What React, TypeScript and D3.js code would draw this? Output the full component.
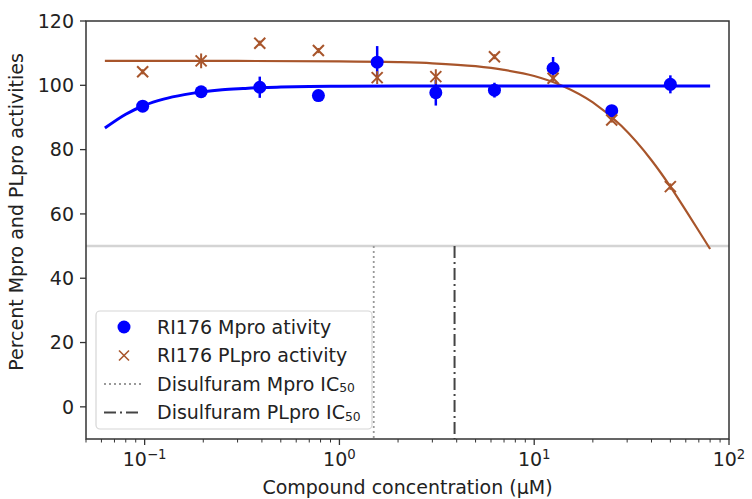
import React from 'react';
import * as d3 from 'd3';

// ---- data ----
const concentrations = [0.0977, 0.195, 0.39, 0.78, 1.5625, 3.125, 6.25, 12.5, 25, 50];
const mproActivity = [93.5, 98.0, 99.4, 96.8, 107.2, 97.7, 98.5, 105.3, 92.1, 100.3];
const mproError = [1.2, 1.5, 3.3, 1.0, 5.0, 4.0, 2.3, 3.5, 1.0, 2.8];
const plproActivity = [104.2, 107.6, 113.1, 110.8, 102.4, 102.7, 108.9, 102.2, 89.2, 68.5];
const plproError = [0.8, 2.3, 0.8, 0.8, 2.0, 2.3, 0.8, 1.0, 0.8, 1.0];

const mproFitX = [0.0625, 0.08, 0.1, 0.125, 0.16, 0.2, 0.25, 0.32, 0.4, 0.5, 0.7, 1, 2, 5, 10, 20, 40, 80];
const mproFitY = [86.7, 91.0, 93.8, 95.7, 97.1, 98.0, 98.6, 99.0, 99.3, 99.45, 99.6, 99.7, 99.77, 99.8, 99.8, 99.8, 99.8, 99.8];
const plproFitX = [0.0625, 0.1, 0.3, 1, 2, 3, 5, 7, 10, 14, 20, 28, 40, 50, 60, 70, 80];
const plproFitY = [107.6, 107.6, 107.58, 107.47, 107.2, 106.85, 105.95, 104.8, 102.9, 99.8, 94.7, 87.4, 76.7, 68.5, 61.1, 54.7, 49.1];

const disulfuramMproIC50 = 1.5;
const disulfuramPlproIC50 = 3.9;
const halfActivity = 50;

const yTicks = [0, 20, 40, 60, 80, 100, 120];
const xTickExponents = ['\u22121', '0', '1', '2'];
const xTickValues = [0.1, 1, 10, 100];

const legendLabels = ['RI176 Mpro ativity', 'RI176 PLpro activity', 'Disulfuram Mpro IC', 'Disulfuram PLpro IC'];
const xLabel = 'Compound concentration (\u03bcM)';
const yLabel = 'Percent Mpro and PLpro activities';

// ---- styles ----
const W = 752, H = 499;
const left = 86, right = 729, top = 21, bottom = 439;
const FONT = 'DejaVu Sans';
const FS = 19;
const BLUE = '#0000ff';
const BROWN = '#a8552b';
const AXIS = '#333';

export default function App() {
  const x = d3.scaleLog().domain([0.05, 100]).range([left, right]);
  const y = d3.scaleLinear().domain([-10, 120]).range([bottom, top]);

  const line = d3.line<[number, number]>()
    .x(d => x(d[0]))
    .y(d => y(d[1]))
    .curve(d3.curveMonotoneX);

  const mproPath = line(mproFitX.map((v, i) => [v, mproFitY[i]]) as [number, number][]) || '';
  const plproPath = line(plproFitX.map((v, i) => [v, plproFitY[i]]) as [number, number][]) || '';

  const minorTicks: number[] = [];
  for (let e = -2; e <= 1; e++) {
    for (let m = 2; m <= 9; m++) {
      const v = m * Math.pow(10, e);
      if (v >= 0.05 && v <= 100) minorTicks.push(v);
    }
  }

  const xs = 5.5; // half-size of X marker
  const legX = 96, legY = 311, legW = 276, legH = 118;
  const rowY = [327, 355.5, 384, 412.5];
  const handleX = 124;
  const textX = 157;

  return (
    <svg width={W} height={H} style={{ position: 'absolute', left: 0, top: 0, background: '#fff' }}
      fontFamily={FONT}>
      <rect x={0} y={0} width={W} height={H} fill="#fff" />
      {/* 50% line */}
      <line x1={left} x2={right} y1={y(halfActivity)} y2={y(halfActivity)} stroke="#d4d4d4" strokeWidth={2.5} />
      {/* IC50 lines */}
      <line x1={x(disulfuramMproIC50)} x2={x(disulfuramMproIC50)} y1={y(halfActivity)} y2={bottom}
        stroke="#999" strokeWidth={1.8} strokeDasharray="2 3" />
      <line x1={x(disulfuramPlproIC50)} x2={x(disulfuramPlproIC50)} y1={y(halfActivity)} y2={bottom}
        stroke="#444" strokeWidth={2} strokeDasharray="12 4 2 4" />

      {/* fitted curves */}
      <path d={plproPath} fill="none" stroke={BROWN} strokeWidth={2.2} />
      <path d={mproPath} fill="none" stroke={BLUE} strokeWidth={3} />

      {/* Mpro points with error bars */}
      {concentrations.map((c, i) => (
        <g key={'m' + i}>
          <line x1={x(c)} x2={x(c)} y1={y(mproActivity[i] - mproError[i])} y2={y(mproActivity[i] + mproError[i])}
            stroke={BLUE} strokeWidth={2.5} />
          <circle cx={x(c)} cy={y(mproActivity[i])} r={6.5} fill={BLUE} />
        </g>
      ))}
      {/* PLpro points with error bars */}
      {concentrations.map((c, i) => {
        const cx = x(c), cy = y(plproActivity[i]);
        return (
          <g key={'p' + i} stroke={BROWN} strokeWidth={2}>
            <line x1={cx} x2={cx} y1={y(plproActivity[i] - plproError[i])} y2={y(plproActivity[i] + plproError[i])} />
            <line x1={cx - xs} x2={cx + xs} y1={cy - xs} y2={cy + xs} />
            <line x1={cx - xs} x2={cx + xs} y1={cy + xs} y2={cy - xs} />
          </g>
        );
      })}

      {/* legend */}
      <rect x={legX} y={legY} width={legW} height={legH} rx={4} fill="#fff" fillOpacity={0.8} stroke="#d6d6d6" strokeWidth={1.2} />
      <circle cx={handleX} cy={rowY[0]} r={6.5} fill={BLUE} />
      <g stroke={BROWN} strokeWidth={1.6}>
        <line x1={handleX - 5} x2={handleX + 5} y1={rowY[1] - 5} y2={rowY[1] + 5} />
        <line x1={handleX - 5} x2={handleX + 5} y1={rowY[1] + 5} y2={rowY[1] - 5} />
      </g>
      <line x1={104} x2={142} y1={rowY[2]} y2={rowY[2]} stroke="#999" strokeWidth={1.8} strokeDasharray="2 3" />
      <line x1={104} x2={142} y1={rowY[3]} y2={rowY[3]} stroke="#444" strokeWidth={2} strokeDasharray="12 4 2 4" />
      {legendLabels.map((t, i) => (
        <text key={'l' + i} x={textX} y={rowY[i]} dy="0.36em" fontSize={FS} fill="#222">
          {t}
          {i >= 2 ? <tspan fontSize={FS * 0.65} dy="0.1em">50</tspan> : null}
        </text>
      ))}

      {/* axes frame */}
      <rect x={left} y={top} width={right - left} height={bottom - top} fill="none" stroke={AXIS} strokeWidth={1.5} />

      {/* y ticks */}
      {yTicks.map(t => (
        <g key={'y' + t}>
          <line x1={left - 6} x2={left} y1={y(t)} y2={y(t)} stroke={AXIS} strokeWidth={1.3} />
          <text x={left - 12} y={y(t)} dy="0.36em" textAnchor="end" fontSize={FS} fill="#222">{t}</text>
        </g>
      ))}
      {/* x ticks */}
      {minorTicks.map((t, i) => (
        <line key={'mi' + i} x1={x(t)} x2={x(t)} y1={bottom} y2={bottom + 3.5} stroke={AXIS} strokeWidth={1} />
      ))}
      {xTickValues.map((t, i) => (
        <g key={'x' + i}>
          <line x1={x(t)} x2={x(t)} y1={bottom} y2={bottom + 6} stroke={AXIS} strokeWidth={1.3} />
          <text x={x(t)} y={466} textAnchor="middle" fontSize={FS} fill="#222">
            10<tspan fontSize={FS * 0.7} dy="-0.55em">{xTickExponents[i]}</tspan>
          </text>
        </g>
      ))}

      {/* axis labels */}
      <text x={(left + right) / 2} y={494} textAnchor="middle" fontSize={FS} fill="#222">{xLabel}</text>
      <text transform={`translate(23, ${(top + bottom) / 2 - 18}) rotate(-90)`} textAnchor="middle" fontSize={FS} fill="#222">{yLabel}</text>
    </svg>
  );
}
